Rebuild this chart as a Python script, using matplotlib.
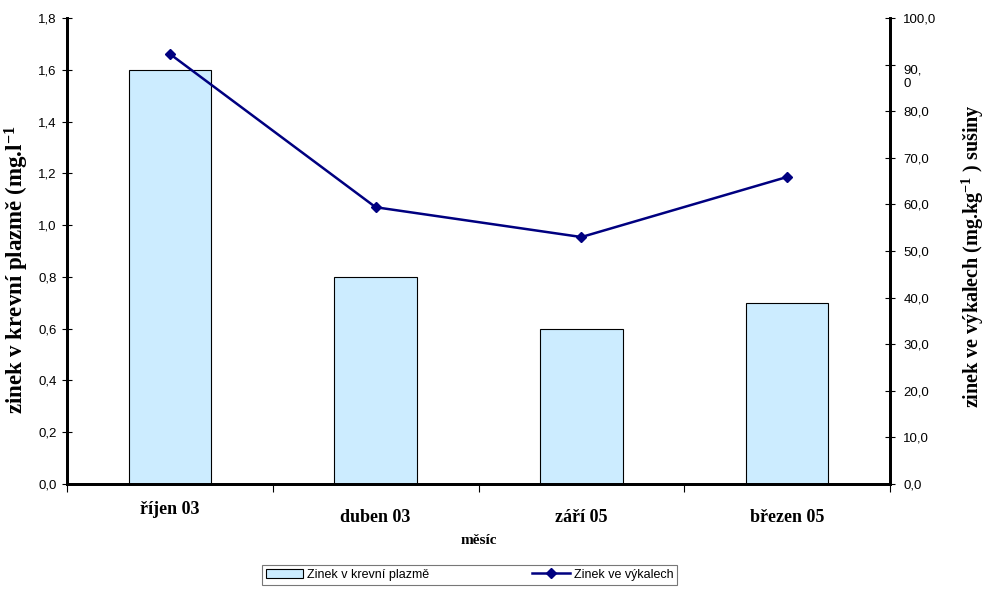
import numpy as np
import matplotlib
matplotlib.use("Agg")
import matplotlib.pyplot as plt
from matplotlib.transforms import ScaledTranslation

plt.rcParams['font.family'] = ['Liberation Sans', 'DejaVu Sans']
plt.rcParams['mathtext.fontset'] = 'custom'
plt.rcParams['mathtext.rm'] = 'Liberation Serif:bold'
plt.rcParams['mathtext.bf'] = 'Liberation Serif:bold'
plt.rcParams['mathtext.it'] = 'Liberation Serif:bold'

mesice = ['říjen 03', 'duben 03', 'září 05', 'březen 05']
plazma = [1.6, 0.8, 0.6, 0.7]          # mg/l
vykaly = [92.3, 59.4, 53.0, 65.9]      # mg/kg sušiny
levy_ticks = np.arange(0, 1.81, 0.2)
pravy_ticks = np.arange(0, 101, 10)

fig = plt.figure(figsize=(9.89, 5.91), dpi=100)
ax = fig.add_axes([0.0677, 0.181, 0.8323, 0.7885])
ax2 = ax.twinx()

x = np.arange(len(mesice))
bars = ax.bar(x, plazma, width=0.4, color='#CCECFF', edgecolor='black', linewidth=0.8,
              label='Zinek v krevní plazmě')
line, = ax2.plot(x, vykaly, color='#000080', lw=1.8, marker='D', ms=5,
                 label='Zinek ve výkalech')

ax.set_xlim(-0.5, 3.5)
ax.set_ylim(0, 1.8)
ax2.set_ylim(0, 100)

ax.set_yticks(levy_ticks)
ax.set_yticklabels([('%.1f' % v).replace('.', ',') for v in levy_ticks], fontsize=9.5)
ax2.set_yticks(pravy_ticks)
lab2 = [('%.1f' % v).replace('.', ',') for v in pravy_ticks]
lab2[9] = '90,\n0'
ax2.set_yticklabels(lab2, fontsize=9.5)
for t in ax2.get_yticklabels():
    if t.get_text() == '90,\n0':
        t.set_verticalalignment('top')
        t.set_transform(t.get_transform() + ScaledTranslation(0, 7 / 72, fig.dpi_scale_trans))

# category ticks at boundaries, labels in the middle
ax.set_xticks(np.arange(-0.5, 3.6, 1.0))
ax.set_xticklabels([])
ax.set_xticks(x, minor=True)
ax.set_xticklabels(mesice, minor=True, fontsize=13, fontweight='bold', family='Liberation Serif')
ax.tick_params(axis='x', which='minor', length=0, pad=12)
ax.tick_params(axis='x', which='major', length=6, width=0.8, direction='out')
lbls = ax.get_xticklabels(minor=True)
for i, t in enumerate(lbls):
    if i > 0:
        t.set_transform(t.get_transform() + ScaledTranslation(0, -6 / 72, fig.dpi_scale_trans))

ax.tick_params(axis='y', direction='inout', length=7, width=0.8, pad=4)
ax2.tick_params(axis='y', direction='inout', length=7, width=0.8, pad=6)

for a in (ax, ax2):
    a.spines['top'].set_visible(False)
    a.spines['left'].set_linewidth(2)
    a.spines['bottom'].set_linewidth(2)
    a.spines['right'].set_linewidth(2)

ax.set_ylabel(r'zinek v krevní plazmě (mg.l$^{-1}$', fontsize=16.5, fontweight='bold',
              family='Liberation Serif')
ax.yaxis.set_label_coords(-0.044, 0.46)
ax2.set_ylabel(r'zinek ve výkalech (mg.kg$^{-1}$ ) sušiny', fontsize=14.5, fontweight='bold',
               family='Liberation Serif')
ax2.yaxis.set_label_coords(1.085, 0.49)
ax.set_xlabel('měsíc', fontsize=11, fontweight='bold', family='Liberation Serif', labelpad=6)

leg = fig.legend([bars, line], ['Zinek v krevní plazmě', 'Zinek ve výkalech'],
                 loc='upper left', bbox_to_anchor=(262 / 989, (591 - 565) / 591, (677 - 262) / 989, 0.0),
                 mode='expand', ncol=2, fontsize=9, frameon=True, fancybox=False,
                 edgecolor='#555555', borderaxespad=0, borderpad=0.3, handlelength=3.0,
                 handletextpad=0.3)
leg.get_frame().set_linewidth(0.8)

fig.savefig('out.png', dpi=100)
